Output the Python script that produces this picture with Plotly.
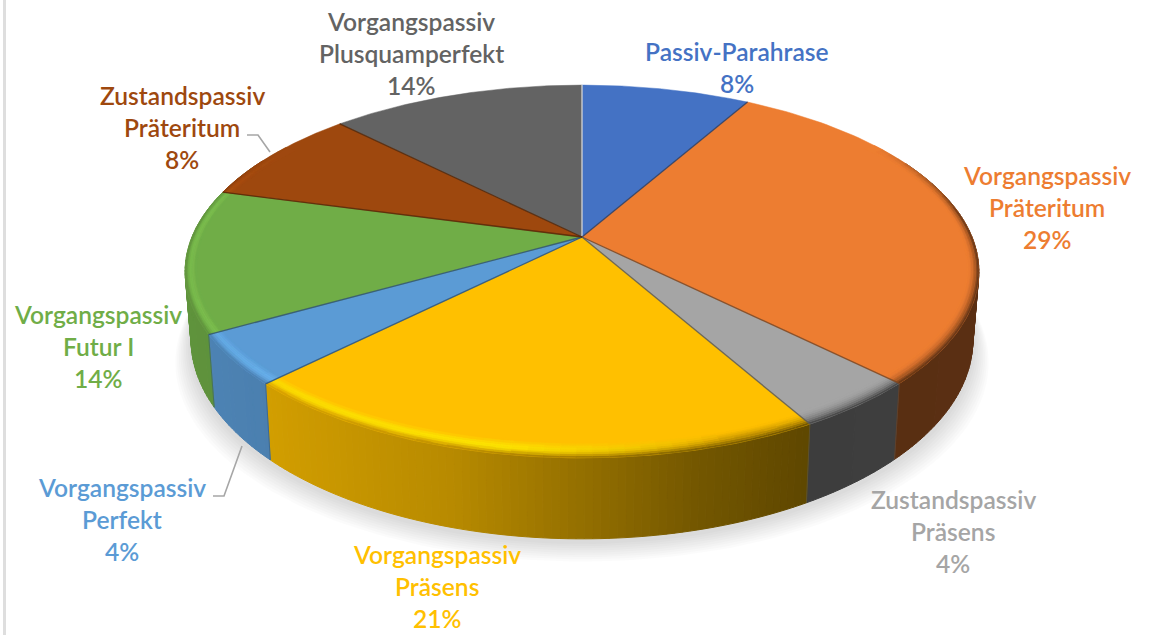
import numpy as np
import plotly.graph_objects as go

# ---- data ----
categories = ["Passiv-Parahrase", "Vorgangspassiv Präteritum", "Zustandspassiv Präsens",
              "Vorgangspassiv Präsens", "Vorgangspassiv Perfekt", "Vorgangspassiv Futur I",
              "Zustandspassiv Präteritum", "Vorgangspassiv Plusquamperfekt"]
slice_shares = [8.2, 29.3, 4.35, 20.6, 4.35, 12.4, 8.4, 12.4]   # measured slice sizes
percent_labels = ["8%", "29%", "4%", "21%", "4%", "14%", "8%", "14%"]  # printed labels
colors = ["#4472C4", "#ED7D31", "#A5A5A5", "#FFC000", "#5B9BD5", "#70AD47", "#9E480E", "#636363"]

label_lines = [["Passiv-Parahrase"], ["Vorgangspassiv", "Präteritum"], ["Zustandspassiv", "Präsens"],
               ["Vorgangspassiv", "Präsens"], ["Vorgangspassiv", "Perfekt"], ["Vorgangspassiv", "Futur I"],
               ["Zustandspassiv", "Präteritum"], ["Vorgangspassiv", "Plusquamperfekt"]]
label_centers = [(737, 52), (1047, 176), (953, 500), (437, 555), (122, 488), (98, 315), (182, 96), (411, 22)]
LINE_GAP = 32

# ---- projection of the tilted disc into page pixels ----
CX, CY, A, B, K, DEPTH = 582.0, 237.0, 390.0, 180.0, 0.185, 66.0


def project(t, inset=0.0, z=0.0):
    r = 1 - inset * (0.028 * np.sin(t) ** 2 + 0.06 * np.cos(t) ** 2)
    u = r * np.sin(t)
    v = r * np.cos(t)
    w = 1 + K * v
    return CX + A * u / w * (1 - 0.015 * z), CY - B * v / w + z * DEPTH / w


def rgb(h):
    return np.array([int(h[i:i + 2], 16) for i in (1, 3, 5)], float)


def css(c):
    c = np.clip(c, 0, 255)
    return "rgb(%d,%d,%d)" % tuple(np.round(c))


def side_factor(x):
    return np.interp(x, [185, 270, 450, 600, 700, 810, 980], [.85, .82, .72, .56, .45, .37, .38])


def glow(x):
    return np.interp(x, [185, 300, 500, 650, 730], [.25, .4, .5, .2, 0])


shares = np.array(slice_shares)
edges = np.concatenate([[0], np.cumsum(shares)]) / shares.sum() * 2 * np.pi

fig = go.Figure()

# soft shadow under the disc
ts = np.linspace(0, 2 * np.pi, 241)
for i in range(9, 0, -1):
    x, y = project(ts, 0, 1)
    x = CX + (x - CX) * (1 + i * 0.0045)
    y = y + 3 + i * 2.2
    fig.add_trace(go.Scatter(x=x, y=y, mode="lines", fill="toself", fillcolor="rgba(0,0,0,0.016)",
                             line=dict(width=0), hoverinfo="skip", showlegend=False))


def add_groups(groups, lw=0.7):
    for col, polys in groups.items():
        xs, ys = [], []
        for px, py in polys:
            xs += list(px) + [None]
            ys += list(py) + [None]
        fig.add_trace(go.Scatter(x=xs, y=ys, mode="lines", fill="toself", fillcolor=col,
                                 line=dict(color=col, width=lw), hoverinfo="skip", showlegend=False))


# side wall
groups = {}
STEP = np.radians(1.0)
for i, col in enumerate(colors):
    base = rgb(col)
    n = max(1, int((edges[i + 1] - edges[i]) / STEP))
    tt = np.linspace(edges[i], edges[i + 1], n + 1)
    for t0, t1 in zip(tt[:-1], tt[1:]):
        if np.cos((t0 + t1) / 2) > 0.45:
            continue
        x0, y0 = project(t0)
        x1, y1 = project(t1)
        x2, y2 = project(t1, 0, 1)
        x3, y3 = project(t0, 0, 1)
        c = css(base * side_factor((x0 + x1) / 2))
        groups.setdefault(c, []).append(([x0, x1, x2, x3, x0], [y0, y1, y2, y3, y0]))
add_groups(groups, lw=1)

# top faces
for i, col in enumerate(colors):
    tt = np.linspace(edges[i], edges[i + 1], 90)
    x, y = project(tt)
    fig.add_trace(go.Scatter(x=np.r_[CX, x, CX], y=np.r_[CY, y, CY], mode="lines", fill="toself",
                             fillcolor=col, line=dict(color=col, width=0.5),
                             name=categories[i], hoverinfo="skip", showlegend=False))

# rounded rim: outer band (inset 0) blends into the wall colour, inner band into the face colour
groups = {}
BANDS = 8
for i, col in enumerate(colors):
    base = rgb(col)
    n = max(1, int((edges[i + 1] - edges[i]) / (2 * STEP)))
    tt = np.linspace(edges[i], edges[i + 1], n + 1)
    for t0, t1 in zip(tt[:-1], tt[1:]):
        tm = (t0 + t1) / 2
        strength = np.clip((0.55 - np.cos(tm)) / 0.4, 0, 1)
        if strength <= 0:
            continue
        xm, _ = project(tm)
        sc = base * side_factor(xm)
        for b in range(BANDS):
            s0, s1 = b / BANDS, (b + 1) / BANDS
            s = 1 - (s0 + s1) / 2
            c = base + (sc - base) * s ** 2.2
            bright = np.clip(base * 1.25, 0, 255)
            g = glow(xm) * np.sin(np.pi * s) ** 2 * 1.6
            c = c + (bright - c) * min(g, 1)
            c = base + (c - base) * strength
            x0, y0 = project(t0, s0)
            x1, y1 = project(t1, s0)
            x2, y2 = project(t1, s1)
            x3, y3 = project(t0, s1)
            key = css(np.round(c / 3) * 3)
            groups.setdefault(key, []).append(([x0, x1, x2, x3, x0], [y0, y1, y2, y3, y0]))
add_groups(groups, lw=0.4)

# dividing lines
lum = [rgb(c) @ np.array([.3, .59, .11]) for c in colors]
for i, t in enumerate(edges[:-1]):
    prev = (i - 1) % len(colors)
    dark = i if lum[i] < lum[prev] else prev
    line = "rgba(240,240,240,0.95)" if i == 0 else css(rgb(colors[dark]) * 0.55)
    xe, ye = project(t)
    fig.add_trace(go.Scatter(x=[CX, xe], y=[CY, ye], mode="lines", line=dict(color=line, width=1.3),
                             opacity=0.85, hoverinfo="skip", showlegend=False))
    if np.cos(t) < 0.1:
        xb, yb = project(t, 0, 1)
        fig.add_trace(go.Scatter(x=[xe, xb], y=[ye, yb], mode="lines", line=dict(color=line, width=1),
                                 opacity=0.5, hoverinfo="skip", showlegend=False))

# leader lines
for lx, ly in [([247, 258, 270], [135, 135, 152]), ([213, 224, 242], [496, 496, 446])]:
    fig.add_trace(go.Scatter(x=lx, y=ly, mode="lines", line=dict(color="#A6A6A6", width=1.6),
                             hoverinfo="skip", showlegend=False))

# labels
annotations = []
for lines, pct, (lx, ly), col in zip(label_lines, percent_labels, label_centers, colors):
    for j, txt in enumerate(lines + [pct]):
        annotations.append(dict(x=lx, y=ly + j * LINE_GAP - 1, text=txt, showarrow=False,
                                xanchor="center", yanchor="middle",
                                font=dict(family="Lato", size=24.6, color=col, weight=600)))

fig.update_layout(
    width=1152, height=635, margin=dict(l=0, r=0, t=0, b=0),
    paper_bgcolor="white", plot_bgcolor="white", showlegend=False, annotations=annotations,
    xaxis=dict(range=[0, 1152], visible=False, fixedrange=True),
    yaxis=dict(range=[635, 0], visible=False, fixedrange=True),
    shapes=[dict(type="rect", x0=3, x1=6, y0=0, y1=635, fillcolor="#DEDEDE", line=dict(width=0), layer="below")],
)
fig.write_html("out.html", config=dict(displayModeBar=False),
               post_script="document.body.style.margin='0';document.documentElement.style.overflow='hidden';")
